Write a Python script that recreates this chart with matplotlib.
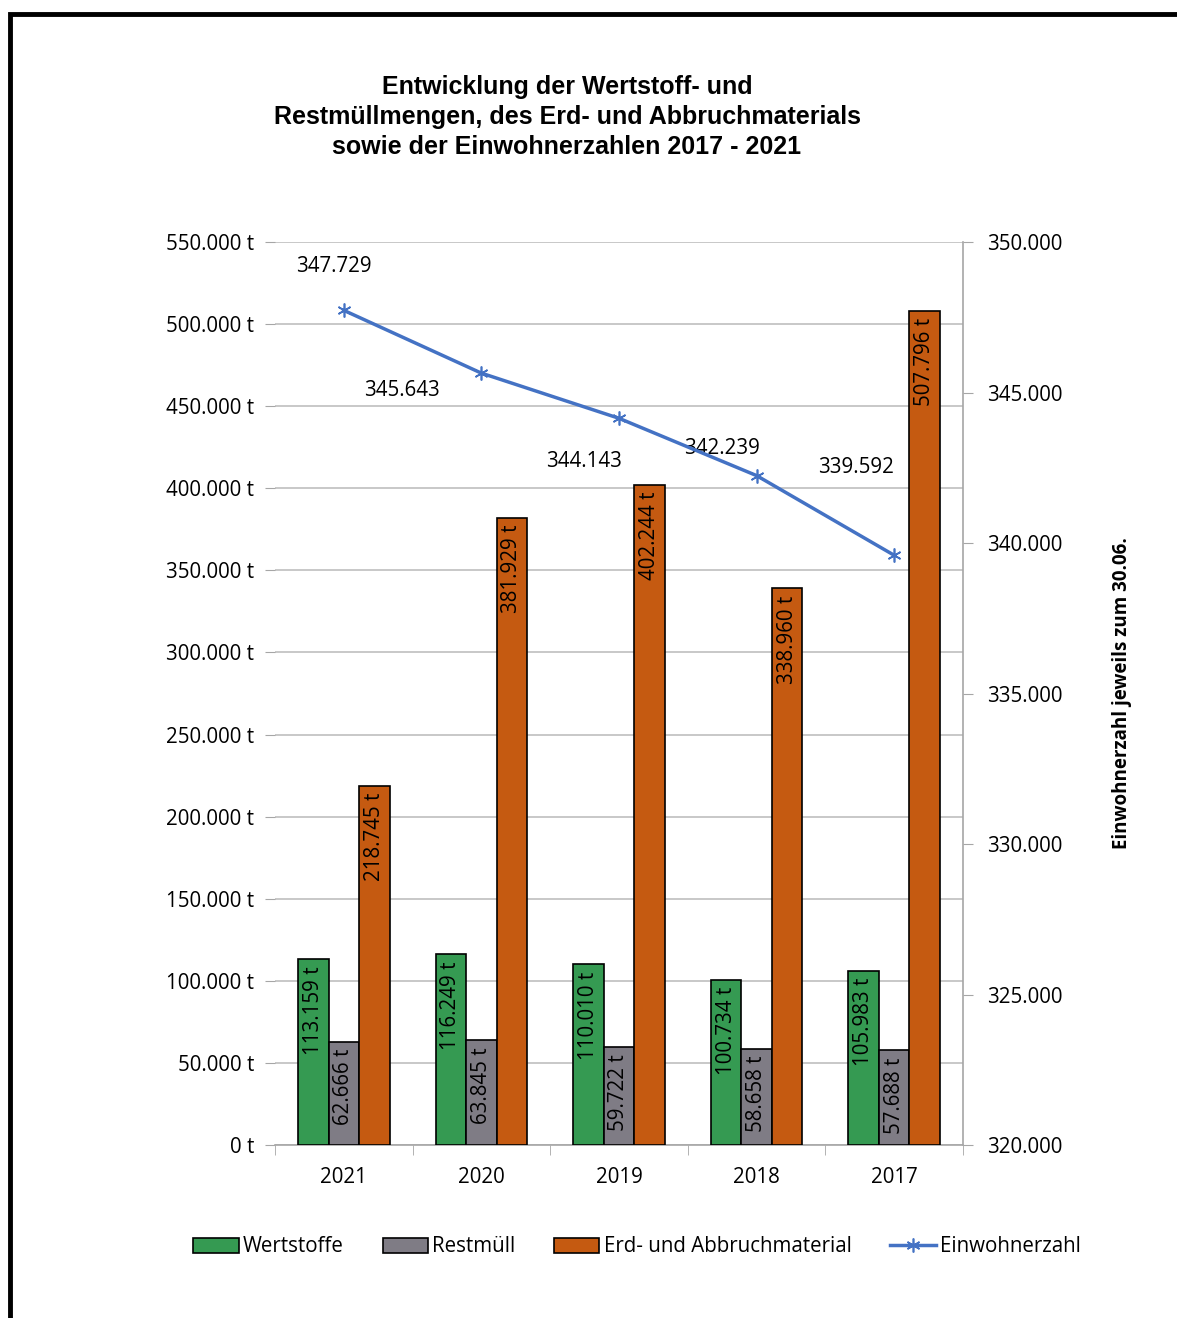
import matplotlib.pyplot as plt
import numpy as np
from matplotlib.ticker import FuncFormatter, FixedLocator

plt.rcParams["font.family"] = ["Open Sans", "DejaVu Sans"]

years = ["2021", "2020", "2019", "2018", "2017"]
wertstoffe = [113159, 116249, 110010, 100734, 105983]
restmuell = [62666, 63845, 59722, 58658, 57688]
erdmaterial = [218745, 381929, 402244, 338960, 507796]
einwohner = [347729, 345643, 344143, 342239, 339592]

# label offsets for the population line (pixels)
line_label_offsets = [(-10, 44), (-79, -17), (-35, -43), (-35, 27), (-38, 88)]

GREEN = "#359A52"
GRAY = "#7F7C85"
ORANGE = "#C55A11"
BLUE = "#4472C4"
FS = 14.8


def de_num(v):
    return f"{v:,.0f}".replace(",", ".")


fig = plt.figure(figsize=(11.77, 13.18), dpi=100)

# outer frame (partly cropped in the source)
fig.patches.append(plt.Rectangle((10 / 1177, -0.01), 1.05, 1 - 14 / 1318 + 0.01,
                                 transform=fig.transFigure, fill=False,
                                 edgecolor="black", linewidth=3.5))

ax = fig.add_axes([275 / 1177, 1 - 1145 / 1318, 688 / 1177, 903 / 1318])
x = np.arange(len(years))
w = 0.222

series = [(wertstoffe, GREEN, "Wertstoffe", -w),
          (restmuell, GRAY, "Restmüll", 0),
          (erdmaterial, ORANGE, "Erd- und Abbruchmaterial", w)]
for vals, col, lab, off in series:
    bars = ax.bar(x + off, vals, width=w, color=col, edgecolor="black",
                  linewidth=1.2, label=lab, zorder=3)
    for b, v in zip(bars, vals):
        ax.annotate(f"{de_num(v)} t", (b.get_x() + b.get_width() / 2, v),
                    xytext=(0, -7), textcoords="offset pixels",
                    rotation=90, ha="center", va="top", fontsize=FS,
                    color="black", zorder=4)

ax.set_xlim(-0.5, 4.5)
ax.set_ylim(0, 550000)
ax.set_yticks(np.arange(0, 550001, 50000))
ax.yaxis.set_major_formatter(FuncFormatter(lambda v, p: f"{de_num(v)} t"))
ax.set_xticks(x)
ax.set_xticklabels(years, fontsize=FS)
ax.xaxis.set_minor_locator(FixedLocator(np.arange(-0.5, 4.6, 1)))
ax.tick_params(axis="x", which="major", length=0, pad=16)
ax.tick_params(axis="x", which="minor", length=7, color="#A6A6A6", direction="out")
ax.tick_params(axis="y", labelsize=FS, length=7, color="#A6A6A6", direction="out", pad=8)
ax.grid(axis="y", color="#BFBFBF", linewidth=1.2, zorder=0)
for s in ["top", "right"]:
    ax.spines[s].set_visible(False)
ax.spines["left"].set_visible(False)
ax.spines["bottom"].set_color("#A6A6A6")
ax.spines["bottom"].set_linewidth(1.2)

ax2 = ax.twinx()
ax2.set_ylim(320000, 350000)
ax2.set_yticks(np.arange(320000, 350001, 5000))
ax2.yaxis.set_major_formatter(FuncFormatter(lambda v, p: de_num(v)))
ax2.tick_params(axis="y", labelsize=FS, length=7, color="#A6A6A6", direction="out", pad=10)
for s in ["top", "left", "bottom"]:
    ax2.spines[s].set_visible(False)
ax2.spines["right"].set_color("#A6A6A6")
ax2.spines["right"].set_linewidth(1.2)
ax2.plot(x, einwohner, color=BLUE, linewidth=2.5, marker=(6, 2, 0),
         markersize=10, markeredgewidth=1.2, label="Einwohnerzahl", zorder=5)
for xi, v, off in zip(x, einwohner, line_label_offsets):
    ax2.annotate(de_num(v), (xi, v), xytext=off, textcoords="offset pixels",
                 ha="center", va="center", fontsize=FS)
ax2.set_ylabel("Einwohnerzahl jeweils zum 30.06.", fontsize=13.5, fontweight="bold",
               labelpad=36)

fig.text(567 / 1177, 1 - 117 / 1318,
         "Entwicklung der Wertstoff- und\nRestmüllmengen, des Erd- und Abbruchmaterials\n"
         "sowie der Einwohnerzahlen 2017 - 2021",
         ha="center", va="center", fontsize=18, fontweight="bold",
         family="Liberation Sans", linespacing=1.3)

h1, l1 = ax.get_legend_handles_labels()
h2, l2 = ax2.get_legend_handles_labels()
fig.legend(h1 + h2, l1 + l2, loc="center", bbox_to_anchor=(637 / 1177, 1 - 1247 / 1318),
           ncol=4, frameon=False, fontsize=FS, handlelength=2.2, handleheight=0.7,
           handletextpad=0.2, columnspacing=1.9)

fig.savefig("out.png", dpi=100)
